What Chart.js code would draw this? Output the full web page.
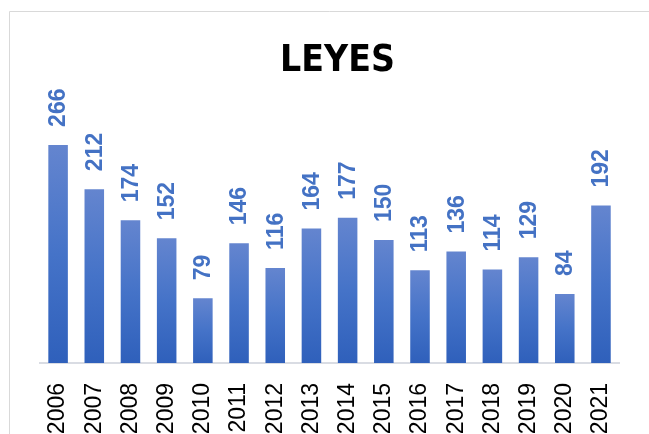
<!DOCTYPE html>
<html lang="es">
<head>
    <meta charset="UTF-8">
    <title>Leyes</title>
    <script src="https://cdn.jsdelivr.net/npm/chart.js"></script>
    <style>
        html, body { margin: 0; padding: 0; background: #ffffff; overflow: hidden; }
        .chart-box { position: relative; width: 649px; height: 434px; }
    </style>
</head>
<body>
    <div class="chart-box">
        <canvas id="leyesChart" width="649" height="434"></canvas>
    </div>

    <script>
        // Datos del grafico
        const years = ['2006', '2007', '2008', '2009', '2010', '2011', '2012', '2013',
                       '2014', '2015', '2016', '2017', '2018', '2019', '2020', '2021'];
        const leyes = [266, 212, 174, 152, 79, 146, 116, 164, 177, 150, 113, 136, 114, 129, 84, 192];
        const yMax = 300;

        // Marco gris claro (solo se ve el borde izquierdo y superior)
        const frame = {
            id: 'frame',
            beforeDraw(chart) {
                const ctx = chart.ctx;
                ctx.save();
                ctx.strokeStyle = '#d9d9d9';
                ctx.lineWidth = 1;
                ctx.beginPath();
                ctx.moveTo(9.5, chart.height);
                ctx.lineTo(9.5, 11.5);
                ctx.lineTo(chart.width, 11.5);
                ctx.stroke();
                ctx.restore();
            }
        };

        // Etiquetas de valor giradas encima de cada barra
        const valueLabels = {
            id: 'valueLabels',
            afterDatasetsDraw(chart) {
                const ctx = chart.ctx;
                const meta = chart.getDatasetMeta(0);
                ctx.save();
                ctx.fillStyle = '#4472c4';
                ctx.font = 'bold 23px "Liberation Sans", Arial, sans-serif';
                ctx.textAlign = 'left';
                ctx.textBaseline = 'middle';
                meta.data.forEach((bar, i) => {
                    ctx.save();
                    ctx.translate(bar.x, bar.y - 18);
                    ctx.rotate(-Math.PI / 2);
                    ctx.fillText(String(leyes[i]), 0, 1);
                    ctx.restore();
                });
                ctx.restore();
            }
        };

        const barGradient = (context) => {
            const chart = context.chart;
            if (!chart.chartArea || !chart.scales.y) return '#4472c4';
            const y = chart.scales.y;
            const top = y.getPixelForValue(context.raw);
            const bottom = y.getPixelForValue(0);
            const g = chart.ctx.createLinearGradient(0, top, 0, bottom);
            g.addColorStop(0, '#6485cf');
            g.addColorStop(0.5, '#4573c8');
            g.addColorStop(1, '#2f60bb');
            return g;
        };

        new Chart(document.getElementById('leyesChart'), {
            type: 'bar',
            data: {
                labels: years,
                datasets: [{
                    label: 'Leyes',
                    data: leyes,
                    backgroundColor: barGradient,
                    borderWidth: 0,
                    categoryPercentage: 1,
                    barPercentage: 0.54
                }]
            },
            options: {
                responsive: false,
                animation: false,
                layout: { padding: { left: 40, right: 14, top: 0, bottom: 0 } },
                plugins: {
                    legend: { display: false },
                    tooltip: { enabled: false },
                    title: {
                        display: true,
                        text: 'LEYES',
                        color: '#000000',
                        font: { family: '"Liberation Sans Narrow", "DejaVu Sans Condensed", "Liberation Sans", sans-serif', size: 37, weight: 'bold', lineHeight: 1.2 },
                        padding: { top: 39, bottom: 33.6 }
                    }
                },
                scales: {
                    x: {
                        grid: { display: false, drawTicks: false },
                        border: { display: true, color: '#d9dce3', width: 2 },
                        ticks: {
                            color: '#000000',
                            font: { family: '"Liberation Sans", Arial, sans-serif', size: 23 },
                            minRotation: 90,
                            maxRotation: 90,
                            padding: 20,
                            autoSkip: false
                        },
                        afterFit(scale) { scale.height = 71; }
                    },
                    y: {
                        display: false,
                        min: 0,
                        max: yMax
                    }
                }
            },
            plugins: [frame, valueLabels]
        });
    </script>
</body>
</html>
